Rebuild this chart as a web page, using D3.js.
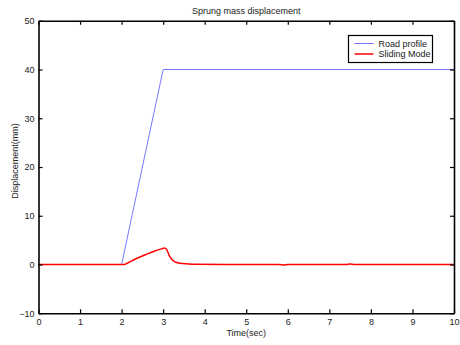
<!DOCTYPE html>
<html>
<head>
<meta charset="utf-8">
<script src="https://cdn.jsdelivr.net/npm/d3@7"></script>
<style>
  body { margin: 0; background: #fff; }
  svg { font-family: "Liberation Sans", Arial, sans-serif; }
</style>
</head>
<body>
<svg id="chart" width="460" height="345"></svg>
<script>
'use strict';

// values
var roadT = [0, 2, 3, 10];
var roadY = [0, 0, 40, 40];

var slideT = [0, 2.06, 2.16, 2.32, 2.56, 2.8, 2.96, 3.04, 3.08, 3.16, 3.27, 3.4, 3.6, 3.8, 4.5, 5.8, 5.9, 6.0, 7.4, 7.5, 7.6, 9.9, 10];
var slideY = [0, 0, 0.37, 1.07, 1.95, 2.77, 3.2, 3.38, 3.1, 1.6, 0.57, 0.25, 0.12, 0.05, 0, 0, -0.1, 0, 0, 0.1, 0, 0, 0];

var xTicks = [0, 1, 2, 3, 4, 5, 6, 7, 8, 9, 10];
var yTicks = [-10, 0, 10, 20, 30, 40, 50];
var seriesNames = ['Road profile', 'Sliding Mode'];
var seriesColors = ['#7878ff', '#ff0000'];

(function() {
    var margin = { left: 38.5, right: 6, top: 20.75, bottom: 31.75 };
    var W = 460, H = 345;
    var width = W - margin.left - margin.right,
        height = H - margin.top - margin.bottom;

    var svg = d3.select('#chart');
    var g = svg.append('g')
        .attr('transform', 'translate(' + margin.left + ',' + margin.top + ')');

    var x = d3.scaleLinear().domain([0, 10]).range([0, width]);
    var y = d3.scaleLinear().domain([-10, 50]).range([height, 0]);

    var line = d3.line()
        .x(function (d) { return x(d[0]); })
        .y(function (d) { return y(d[1]); });

    // road profile
    g.append('path')
        .datum(d3.zip(roadT, roadY))
        .attr('d', line)
        .attr('fill', 'none')
        .attr('stroke', seriesColors[0])
        .attr('stroke-width', 1);

    // sliding mode response
    g.append('path')
        .datum(d3.zip(slideT, slideY))
        .attr('d', d3.line().curve(d3.curveMonotoneX)
            .x(function (d) { return x(d[0]); })
            .y(function (d) { return y(d[1]); }))
        .attr('fill', 'none')
        .attr('stroke', seriesColors[1])
        .attr('stroke-width', 1.5);

    // inward ticks, box style
    var tickLen = 4;
    var xb = g.append('g').attr('transform', 'translate(0,' + height + ')')
        .call(d3.axisBottom(x).tickValues(xTicks).tickSizeInner(-tickLen).tickSizeOuter(0).tickPadding(5));
    var xt = g.append('g')
        .call(d3.axisTop(x).tickValues(xTicks).tickSizeInner(-tickLen).tickSizeOuter(0).tickFormat(''));
    var yl = g.append('g')
        .call(d3.axisLeft(y).tickValues(yTicks).tickSizeInner(-tickLen).tickSizeOuter(0).tickPadding(4));
    var yr = g.append('g').attr('transform', 'translate(' + width + ',0)')
        .call(d3.axisRight(y).tickValues(yTicks).tickSizeInner(-tickLen).tickSizeOuter(0).tickFormat(''));

    [xb, xt, yl, yr].forEach(function (a) {
        a.select('.domain').attr('stroke', '#000').attr('stroke-width', 1.6);
        a.selectAll('.tick line').attr('stroke', '#000').attr('stroke-width', 1.2);
        a.selectAll('.tick text').attr('font-size', 9).attr('fill', '#222')
            .attr('font-family', '"Liberation Sans", Arial, sans-serif');
    });

    // titles
    svg.append('text')
        .attr('x', margin.left + width / 2).attr('y', 14)
        .attr('text-anchor', 'middle').attr('font-size', 9).attr('fill', '#222')
        .text('Sprung mass displacement');
    svg.append('text')
        .attr('x', margin.left + width / 2).attr('y', 336)
        .attr('text-anchor', 'middle').attr('font-size', 9).attr('fill', '#222')
        .text('Time(sec)');
    svg.append('text')
        .attr('transform', 'translate(18,' + (margin.top + height / 2 - 6) + ') rotate(-90)')
        .attr('text-anchor', 'middle').attr('font-size', 9).attr('fill', '#222')
        .text('Displacement(mm)');

    // legend
    var leg = svg.append('g').attr('transform', 'translate(348.5,35.5)');
    leg.append('rect')
        .attr('width', 84).attr('height', 27)
        .attr('fill', '#fff').attr('stroke', '#000').attr('stroke-width', 1.2);
    seriesNames.forEach(function (name, i) {
        var yy = 8 + i * 10.5;
        leg.append('line')
            .attr('x1', 6).attr('x2', 25).attr('y1', yy).attr('y2', yy)
            .attr('stroke', seriesColors[i]).attr('stroke-width', i ? 1.5 : 1);
        leg.append('text')
            .attr('x', 30).attr('y', yy + 3.2)
            .attr('font-size', 9).attr('fill', '#222')
            .text(name);
    });
})();
</script>
</body>
</html>
